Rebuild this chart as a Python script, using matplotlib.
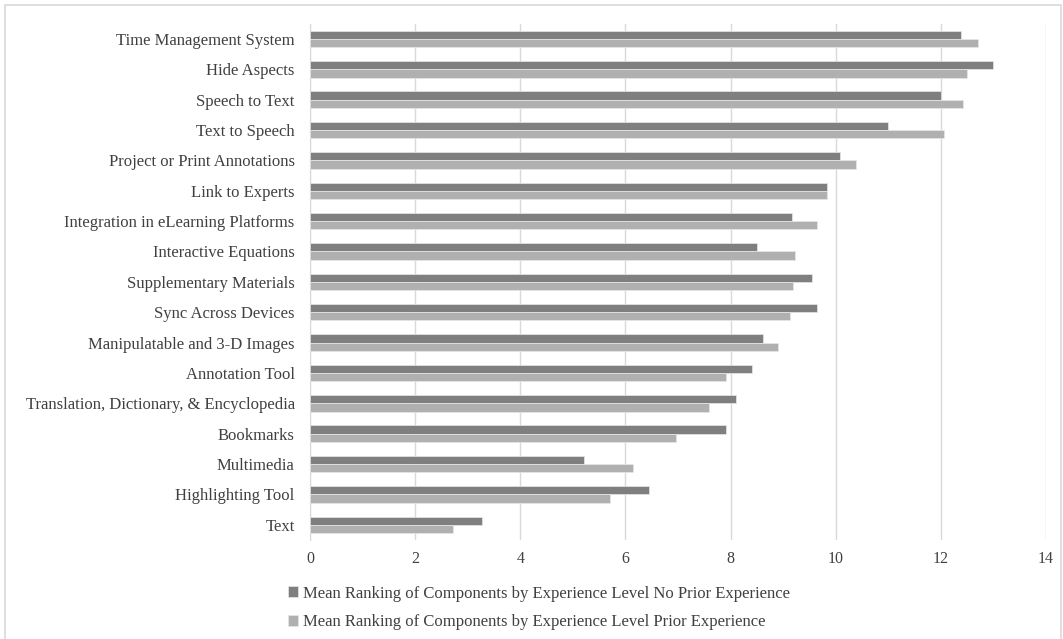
import matplotlib
matplotlib.use("Agg")
import matplotlib.pyplot as plt
import numpy as np

plt.rcParams['font.family'] = ['Liberation Serif', 'DejaVu Serif']

categories = ['Time Management System', 'Hide Aspects', 'Speech to Text', 'Text to Speech',
              'Project or Print Annotations', 'Link to Experts', 'Integration in eLearning Platforms',
              'Interactive Equations', 'Supplementary Materials', 'Sync Across Devices',
              'Manipulatable and 3-D Images', 'Annotation Tool',
              'Translation, Dictionary, & Encyclopedia', 'Bookmarks', 'Multimedia',
              'Highlighting Tool', 'Text']
no_prior = [12.38, 12.99, 12.0, 10.99, 10.08, 9.83, 9.16, 8.50, 9.55, 9.65,
            8.62, 8.40, 8.11, 7.92, 5.21, 6.45, 3.28]
prior = [12.71, 12.49, 12.42, 12.06, 10.38, 9.83, 9.65, 9.23, 9.18, 9.13,
         8.91, 7.92, 7.59, 6.96, 6.15, 5.70, 2.72]
legend_labels = ['Mean Ranking of Components by Experience Level No Prior Experience',
                 'Mean Ranking of Components by Experience Level Prior Experience']

txt = '#404040'
fig = plt.figure(figsize=(10.63, 6.39), dpi=100)
ax = fig.add_axes([0.2916, 0.155, 0.6924, 0.8078])

y = np.arange(len(categories))
h = 0.27
ax.barh(y - h / 2, no_prior, height=h, color='#7f7f7f', edgecolor='#e8e8e8', linewidth=0.5,
        label=legend_labels[0], zorder=3)
ax.barh(y + h / 2, prior, height=h, color='#b0b0b0', edgecolor='#e8e8e8', linewidth=0.5,
        label=legend_labels[1], zorder=3)

ax.set_ylim(len(categories) - 0.5, -0.5)
ax.set_xlim(0, 14)
ax.set_xticks(np.arange(0, 15, 2))
ax.set_yticks(y)
ax.set_yticklabels(categories)
ax.tick_params(length=0, colors=txt)
ax.tick_params(axis='y', pad=11, labelsize=12)
ax.tick_params(axis='x', pad=8, labelsize=11.5)
ax.grid(axis='x', color='#d9d9d9', linewidth=1, zorder=0)
for s in ['top', 'right', 'bottom']:
    ax.spines[s].set_visible(False)
ax.spines['left'].set_color('#d9d9d9')

leg = fig.legend(loc='upper left', bbox_to_anchor=(0.265, 0.094), frameon=False,
                 fontsize=12, handlelength=0.6, handleheight=0.6, handletextpad=0.3,
                 labelspacing=0.75, borderaxespad=0)
for t in leg.get_texts():
    t.set_color(txt)

fig.patches.append(plt.Rectangle((0.005, -0.01), 0.993, 1.002, transform=fig.transFigure,
                                 fill=False, edgecolor='#d9d9d9', linewidth=1.2))

fig.savefig('out.png', dpi=100)
